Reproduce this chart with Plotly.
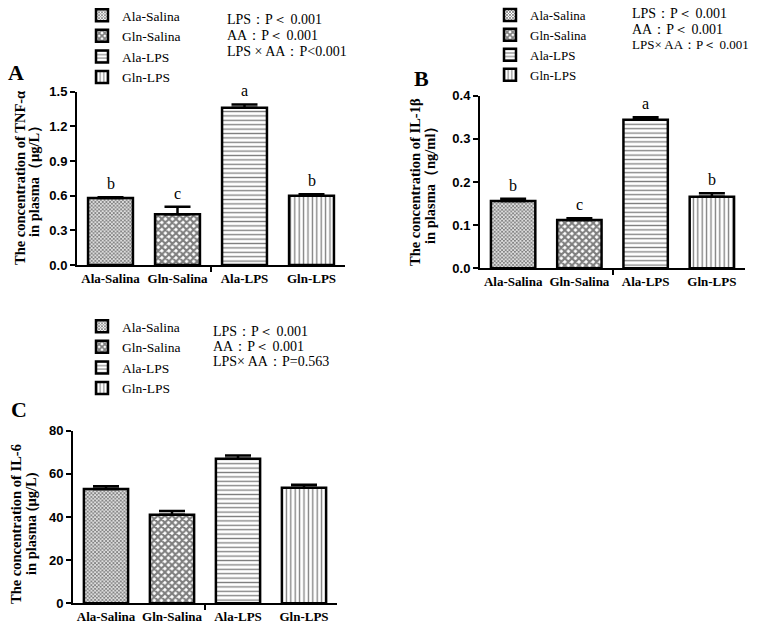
import plotly.graph_objects as go

W, H = 762, 630

categories = ["Ala-Salina", "Gln-Salina", "Ala-LPS", "Gln-LPS"]

tnf_values = [0.58, 0.44, 1.36, 0.60]
tnf_errors = [0.006, 0.065, 0.03, 0.012]
tnf_letters = ["b", "c", "a", "b"]

il1b_values = [0.156, 0.112, 0.344, 0.166]
il1b_errors = [0.005, 0.004, 0.006, 0.008]
il1b_letters = ["b", "c", "a", "b"]

il6_values = [53.0, 41.0, 67.0, 53.5]
il6_errors = [1.2, 1.8, 1.5, 1.5]

tnf_ticks = [0.0, 0.3, 0.6, 0.9, 1.2, 1.5]
il1b_ticks = [0.0, 0.1, 0.2, 0.3, 0.4]
il6_ticks = [0, 20, 40, 60, 80]

tnf_stats = ["LPS：P＜ 0.001", "AA：P＜ 0.001", "LPS × AA：P<0.001"]
il1b_stats = ["LPS：P＜ 0.001", "AA：P＜ 0.001", "LPS× AA：P＜ 0.001"]
il6_stats = ["LPS：P＜ 0.001", "AA：P＜ 0.001", "LPS× AA：P=0.563"]

tnf_title = ["The concentration of TNF-α", "in plasma（μg/L）"]
il1b_title = ["The concentration of IL-1β", "in plasma（ng/ml）"]
il6_title = ["The concentration of IL-6", "in plasma (μg/L)"]

SERIF = "Liberation Serif, Times New Roman, serif"
SANS = "Liberation Sans, Arial, sans-serif"

patterns = [
    dict(shape="x", size=2.6, solidity=0.62, fgcolor="black", bgcolor="white"),
    dict(shape="x", size=5, solidity=0.66, fgcolor="black", bgcolor="white"),
    dict(shape="-", size=4.4, solidity=0.3, fgcolor="black", bgcolor="white"),
    dict(shape="|", size=4.4, solidity=0.3, fgcolor="black", bgcolor="white"),
]


def px(x):
    return x / W


def py(y):
    return min(1.0, 1 - y / H)


fig = go.Figure()

panels = [
    dict(xa="x", ya="y", legend="legend", values=tnf_values, errors=tnf_errors,
         ticks=tnf_ticks, fmt="{:.1f}", letters=tnf_letters,
         xd=[px(77), px(345)], yd=[py(265), py(91.7)],
         title=tnf_title, title_x=(20, 34), title_y=178, label="A", label_xy=(16, 72),
         stats=tnf_stats, stats_x=225, stats_y=[19, 35, 51], stats_size=[14, 14, 14],
         leg_xy=(82, 0), leg_size=13.5),
    dict(xa="x2", ya="y2", legend="legend2", values=il1b_values, errors=il1b_errors,
         ticks=il1b_ticks, fmt="{:.1f}", letters=il1b_letters,
         xd=[px(480), px(745)], yd=[py(268.3), py(95.7)],
         title=il1b_title, title_x=(415, 430), title_y=182, label="B", label_xy=(421, 78),
         stats=il1b_stats, stats_x=630, stats_y=[13, 29, 45], stats_size=[14, 14, 13],
         leg_xy=(490, 0), leg_size=13),
    dict(xa="x3", ya="y3", legend="legend3", values=il6_values, errors=il6_errors,
         ticks=il6_ticks, fmt="{:d}", letters=None,
         xd=[px(73), px(337)], yd=[py(603.3), py(430.7)],
         title=il6_title, title_x=(16, 31), title_y=524, label="C", label_xy=(19, 409),
         stats=il6_stats, stats_x=211, stats_y=[331, 346, 361], stats_size=[14, 14, 14],
         leg_xy=(82, 311), leg_size=13.5),
]

annotations = []
for p in panels:
    for i, cat in enumerate(categories):
        fig.add_trace(go.Bar(
            x=[i], y=[p["values"][i]], name=cat, width=0.67,
            xaxis=p["xa"], yaxis=p["ya"], legend=p["legend"],
            marker=dict(color="white", line=dict(color="black", width=2.5),
                        pattern=patterns[i]),
            error_y=dict(type="data", symmetric=False, array=[p["errors"][i]],
                         arrayminus=[0], color="black", thickness=2.5, width=13),
        ))
        if p["letters"]:
            annotations.append(dict(
                x=i, y=p["values"][i] + p["errors"][i], xref=p["xa"], yref=p["ya"],
                text=p["letters"][i], showarrow=False, yanchor="bottom", yshift=3,
                font=dict(family=SERIF, size=16, color="black")))
    for line, tx in zip(p["title"], p["title_x"]):
        annotations.append(dict(
            x=px(tx), y=py(p["title_y"]), xref="paper", yref="paper",
            text="<b>" + line + "</b>",
            textangle=-90, showarrow=False, xanchor="center", yanchor="middle",
            font=dict(family=SERIF, size=14.5, color="black")))
    lx, ly = p["label_xy"]
    annotations.append(dict(
        x=px(lx), y=py(ly), xref="paper", yref="paper", text="<b>" + p["label"] + "</b>",
        showarrow=False, xanchor="center", yanchor="middle",
        font=dict(family=SERIF, size=22, color="black")))
    for s, sy, sz in zip(p["stats"], p["stats_y"], p["stats_size"]):
        annotations.append(dict(
            x=px(p["stats_x"]), y=py(sy), xref="paper", yref="paper", text=s,
            showarrow=False, xanchor="left", yanchor="middle",
            font=dict(family=SERIF, size=sz, color="black")))

layout = dict(
    width=W, height=H, margin=dict(l=0, r=0, t=0, b=0, autoexpand=False),
    paper_bgcolor="white", plot_bgcolor="white",
    showlegend=True, annotations=annotations,
)

for k, p in enumerate(panels):
    sfx = "" if k == 0 else str(k + 1)
    layout["xaxis" + sfx] = dict(
        domain=p["xd"], anchor=p["ya"], range=[-0.5, 3.5], automargin=False,
        tickmode="array", tickvals=list(range(len(categories))),
        ticktext=["<b>%s</b>" % c for c in categories],
        ticks="", showline=True, linecolor="black", linewidth=2, showgrid=False,
        zeroline=False, fixedrange=True,
        tickfont=dict(family=SERIF, size=13, color="black"),
        minor=dict(tickmode="array", tickvals=[1.5], ticks="outside", ticklen=5,
                   tickwidth=1.5, tickcolor="black"),
    )
    layout["yaxis" + sfx] = dict(
        domain=p["yd"], anchor=p["xa"], range=[p["ticks"][0], p["ticks"][-1]],
        automargin=False, tickmode="array", tickvals=p["ticks"],
        ticktext=["<b>" + p["fmt"].format(t) + "</b>" for t in p["ticks"]],
        ticks="outside", ticklen=5, tickwidth=2, tickcolor="black",
        showline=True, linecolor="black", linewidth=2, showgrid=False, zeroline=False,
        tickfont=dict(family=SANS, size=13, color="black"),
    )
    lgx, lgy = p["leg_xy"]
    layout[p["legend"]] = dict(
        x=px(lgx), y=py(lgy), xanchor="left", yanchor="top",
        bgcolor="rgba(0,0,0,0)", borderwidth=0,
        font=dict(family=SERIF, size=p["leg_size"], color="black"),
        tracegroupgap=0,
    )

fig.update_layout(**layout)
fig.write_html("out.html", config={"displayModeBar": False},
               post_script="document.body.style.margin='0px';")
